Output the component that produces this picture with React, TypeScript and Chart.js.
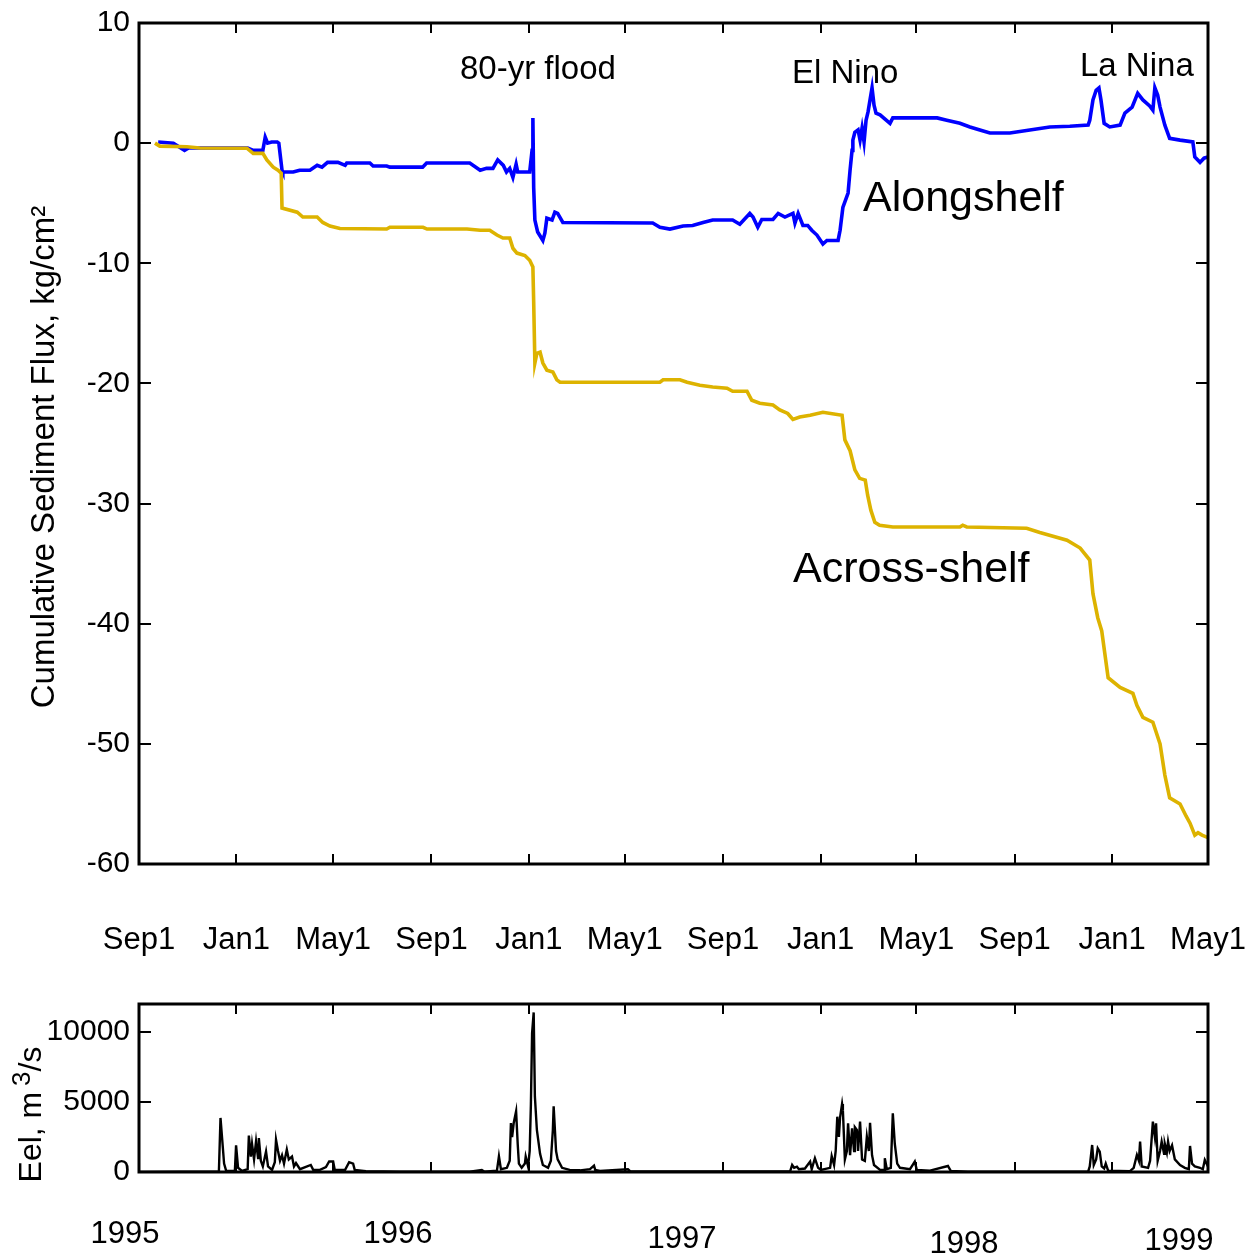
import React, { useEffect, useRef } from 'react';
import { Chart, registerables } from 'chart.js';

Chart.register(...registerables);

// ---------------- data ----------------
// x values are days since 1 Sep 1995
const X_TICK_DAYS = [0, 122, 243, 366, 488, 608, 731, 853, 973, 1096, 1218, 1338];
const X_TICK_LABELS = ['Sep1', 'Jan1', 'May1', 'Sep1', 'Jan1', 'May1', 'Sep1', 'Jan1', 'May1', 'Sep1', 'Jan1', 'May1'];
const FLUX_TICKS = [-60, -50, -40, -30, -20, -10, 0, 10];
const EEL_TICKS = [0, 5000, 10000];
const YEAR_LABELS = ['1995', '1996', '1997', '1998', '1999'];
const EVENT_LABELS = ['80-yr flood', 'El Nino', 'La Nina'];
const SERIES_LABELS = ['Alongshelf', 'Across-shelf'];
const FLUX_TITLE = 'Cumulative Sediment Flux, kg/cm\u00B2';
const EEL_TITLE_PARTS = ['Eel, m ', '3', '/s'];

// Alongshelf cumulative flux [day, kg/cm^2]
const ALONGSHELF: number[][] = [
  [24, 0.1], [43, 0], [57, -0.6], [62, -0.4], [136, -0.4], [143, -0.6], [155, -0.6], [158, 0.5], [161, 0],
  [166, 0.1], [173, 0.1], [175, 0], [179, -2.25], [180, -2.4], [193, -2.4], [201, -2.25], [214, -2.25],
  [223, -1.85], [229, -2.0], [236, -1.6], [249, -1.6], [258, -1.85], [260, -1.65], [289, -1.65], [293, -1.9],
  [310, -1.9], [314, -2.0], [355, -2.0], [360, -1.65], [414, -1.65], [427, -2.25], [435, -2.1], [443, -2.1],
  [449, -1.4], [456, -1.85], [460, -2.4], [464, -2.1], [468, -2.85], [472, -1.75], [474, -2.4], [481, -2.4],
  [489, -2.4], [492, -0.6], [493, 2.1], [494, -3.7], [495.5, -6.4], [499, -7.4], [505.5, -8.1], [508, -7.5],
  [510.5, -6.25], [517, -6.4], [520.5, -5.75], [524, -5.85], [530.5, -6.6], [643, -6.65], [652, -7.0],
  [664.5, -7.15], [681, -6.9], [693, -6.85], [706, -6.6], [718, -6.4], [743, -6.4], [752, -6.75],
  [764.5, -5.85], [768.5, -6.15], [774.5, -7.0], [779.5, -6.35], [793.5, -6.35], [800, -5.85], [808.5, -6.15],
  [818.5, -5.85], [821, -6.65], [825, -5.85], [831, -6.85], [837, -6.85], [842, -7.25], [848.5, -7.65],
  [856, -8.4], [861, -8.1], [875, -8.1], [877.5, -7.25], [881, -5.35], [887.5, -4.15], [890, -2.25],
  [892.5, -0.6], [893.5, 0.25], [896, 0.9], [900, 1.1], [902.5, 0.25], [905, 1.25], [907.5, 0.1], [910, 1.9],
  [912.5, 2.6], [915, 3.6], [917.5, 4.6], [920, 3.15], [922.5, 2.5], [927.5, 2.35], [940, 1.65], [943.5, 2.1],
  [999, 2.1], [1011, 1.9], [1027.5, 1.65], [1040, 1.35], [1052.5, 1.1], [1065, 0.85], [1090, 0.85],
  [1115, 1.1], [1140, 1.35], [1165, 1.4], [1188, 1.5], [1190, 1.9], [1194, 3.6], [1198, 4.4], [1201.5, 4.6],
  [1204, 3.6], [1208, 1.65], [1215, 1.35], [1228, 1.5], [1234, 2.5], [1243, 3.0], [1250, 4.15], [1256.5, 3.6],
  [1265, 3.1], [1269, 2.75], [1271.5, 4.6], [1275, 4.0], [1278, 3.0], [1284, 1.5], [1290, 0.4], [1303, 0.25],
  [1319, 0.1], [1321.5, -1.15], [1328, -1.6], [1333, -1.25], [1338, -1.15],
];

// Across-shelf cumulative flux [day, kg/cm^2]
const ACROSSSHELF: number[][] = [
  [20, 0], [26, -0.25], [60, -0.3], [76, -0.4], [135, -0.42], [143, -0.85], [155, -0.85], [160, -1.4],
  [168, -2.0], [174, -2.25], [178, -2.5], [179, -5.4], [198, -5.75], [205, -6.15], [223, -6.15], [230, -6.6],
  [239, -6.9], [251.5, -7.1], [310, -7.15], [314, -7.0], [355.5, -7.0], [360.5, -7.15], [410.5, -7.15],
  [427, -7.25], [439, -7.25], [448, -7.65], [455.5, -7.9], [464, -7.9], [468, -8.75], [473, -9.15],
  [483, -9.35], [489, -9.75], [493, -10.3], [494, -13.2], [495.5, -18.3], [498, -17.5], [502, -17.4],
  [505.5, -18.3], [510.5, -18.9], [518, -19.05], [523, -19.7], [527, -19.9], [652, -19.9], [656, -19.7],
  [677, -19.7], [686, -19.9], [702, -20.15], [718, -20.3], [736, -20.4], [743, -20.65], [761, -20.65],
  [767, -21.4], [777, -21.65], [793.5, -21.8], [802, -22.2], [812, -22.5], [818.5, -23.0], [827, -22.8],
  [840, -22.65], [856, -22.4], [880, -22.65], [883.5, -24.7], [890, -25.6], [896, -27.2], [902, -27.9],
  [909, -28.05], [912, -29.3], [916, -30.55], [921, -31.55], [927, -31.8], [943.5, -31.95], [1027.5, -31.95],
  [1031, -31.8], [1036, -31.95], [1111, -32.05], [1127.5, -32.4], [1161.5, -33.05], [1178, -33.7],
  [1190, -34.7], [1194, -37.5], [1200, -39.5], [1205, -40.6], [1213, -44.5], [1228, -45.3], [1244, -45.8],
  [1249, -46.8], [1256.5, -47.8], [1269, -48.2], [1278, -50.0], [1284, -52.6], [1290, -54.5], [1303, -55.0],
  [1310.5, -56.0], [1315.5, -56.6], [1321.5, -57.6], [1325.5, -57.4], [1330.5, -57.6], [1338, -57.8],
];

// Eel River discharge [day, m^3/s]
const EEL: number[][] = [
  [0, 0], [100, 40], [102, 3860], [104, 2430], [106.5, 600], [109, 100], [120, 80], [121.5, 1900], [124, 300],
  [129, 80], [136, 200], [137.5, 2600], [140, 1100], [141.5, 2000], [144, 900], [146.5, 2200], [149, 1000],
  [150, 2430], [152.5, 800], [155, 400], [159, 1470], [161.5, 400], [166.5, 150], [170, 700], [171.5, 2300],
  [174, 1500], [176.5, 800], [179, 1200], [181.5, 600], [185, 1600], [187.5, 900], [191.5, 1100], [194, 400],
  [196.5, 640], [201.5, 200], [215, 500], [218, 150], [226.5, 150], [234, 350], [238, 750], [243, 750],
  [245, 150], [258, 150], [263, 700], [268, 600], [270, 150], [284, 50], [327, 30], [414, 30], [429, 150],
  [432, 30], [448, 100], [450.5, 1120], [453, 200], [460.5, 300], [464, 800], [465.5, 3500], [467, 2500],
  [469, 3500], [472, 4330], [474, 2000], [475.5, 600], [479, 300], [483, 600], [484, 1100], [487, 400],
  [489, 1500], [490.5, 4800], [492, 9900], [494, 11400], [495.5, 5400], [498, 3000], [502, 1300], [505.5, 500],
  [512, 300], [515.5, 800], [518, 3000], [519, 4700], [522, 1500], [524, 900], [529.5, 300], [539, 150],
  [552, 120], [564.5, 200], [569.5, 450], [571, 150], [577, 80], [612, 200], [615, 50], [627, 40], [815, 50],
  [817.5, 500], [820, 300], [823.5, 380], [826, 200], [833.5, 250], [840, 740], [842, 200], [846, 980],
  [850, 300], [853.5, 150], [865, 300], [867, 1140], [870, 500], [872, 1500], [874, 3950], [876, 2500],
  [877.5, 3900], [880, 4860], [881, 4430], [883.5, 900], [886, 1500], [887.5, 3480], [890, 1200],
  [892.5, 3120], [895, 1500], [896, 3200], [898.5, 3000], [900, 1500], [902.5, 3600], [905, 900], [908.5, 800],
  [911, 2520], [913.5, 1500], [915, 3520], [917.5, 1200], [920, 500], [927.5, 150], [932.5, 150],
  [933.5, 980], [936, 200], [941, 300], [943.5, 4190], [946, 2000], [949, 600], [952.5, 300], [965, 200],
  [971, 740], [973.5, 150], [990, 100], [1012.5, 430], [1016, 80], [1037.5, 30], [1188, 30], [1190, 400],
  [1193, 1930], [1195, 500], [1198, 900], [1200, 1690], [1202.5, 1450], [1205, 400], [1208, 250], [1210, 600],
  [1213, 100], [1240, 50], [1245, 300], [1249, 1210], [1251.5, 800], [1253, 2170], [1255, 400], [1263, 300],
  [1265.5, 800], [1269, 3600], [1271.5, 2500], [1273, 3480], [1275, 800], [1278, 1500], [1280, 2170],
  [1283, 1300], [1284, 2000], [1286.5, 1400], [1288, 2170], [1290, 1500], [1293, 1900], [1296.5, 900],
  [1303, 500], [1309, 300], [1314, 200], [1315.5, 1860], [1318, 600], [1321.5, 400], [1328, 300],
  [1331.5, 200], [1334, 860], [1338, 400],
];

// ---------------- layout / style ----------------
const FONT = "'Liberation Sans', Arial, Helvetica, sans-serif";
const W = 1249;
const TOP_H = 990;
const BOT_H = 267;
const PLOT_LEFT = 139;
const RIGHT_PAD = 41;
const TOP_PLOT_TOP = 23;
const TOP_PLOT_BOTTOM = 864;
const BOT_PLOT_TOP = 14;
const BOT_PLOT_BOTTOM = 182;
const BLUE = '#0000FF';
const GOLD = '#DDB300';

const EVENT_POS = [[460, 79], [792, 83], [1080, 76]];
const SERIES_POS = [[863, 211], [793, 582]];
const YEAR_POS = [[125, 244], [398, 244], [682, 249], [964, 254], [1179, 251]];

const toXY = (arr: number[][]) => arr.map(([x, y]) => ({ x, y }));

const frameTicks = {
  id: 'frameTicks',
  afterDatasetsDraw(chart: any) {
    const { ctx, chartArea: a, scales } = chart;
    const len = 10;
    ctx.save();
    ctx.strokeStyle = '#000';
    ctx.lineWidth = 2;
    ctx.beginPath();
    const xs = scales.x;
    xs.ticks.forEach((t: any) => {
      const p = Math.round(xs.getPixelForValue(t.value));
      if (p <= a.left + 2 || p >= a.right - 2) return;
      ctx.moveTo(p, a.bottom);
      ctx.lineTo(p, a.bottom - len);
      ctx.moveTo(p, a.top);
      ctx.lineTo(p, a.top + len);
    });
    const ys = scales.y;
    ys.ticks.forEach((t: any) => {
      const p = Math.round(ys.getPixelForValue(t.value));
      if (p <= a.top + 2 || p >= a.bottom - 2) return;
      ctx.moveTo(a.left, p);
      ctx.lineTo(a.left + len + 2, p);
      ctx.moveTo(a.right, p);
      ctx.lineTo(a.right - len - 2, p);
    });
    ctx.stroke();
    ctx.lineWidth = 3;
    ctx.strokeRect(a.left, a.top, a.right - a.left, a.bottom - a.top);
    ctx.restore();
  },
};

const topText = {
  id: 'topText',
  afterDraw(chart: any) {
    const ctx = chart.ctx;
    ctx.save();
    ctx.fillStyle = '#000';
    ctx.textAlign = 'left';
    ctx.textBaseline = 'alphabetic';
    ctx.font = `33px ${FONT}`;
    EVENT_LABELS.forEach((t, i) => ctx.fillText(t, EVENT_POS[i][0], EVENT_POS[i][1]));
    ctx.font = `43px ${FONT}`;
    SERIES_LABELS.forEach((t, i) => ctx.fillText(t, SERIES_POS[i][0], SERIES_POS[i][1]));
    ctx.translate(54, 457);
    ctx.rotate(-Math.PI / 2);
    ctx.textAlign = 'center';
    ctx.font = `33px ${FONT}`;
    ctx.fillText(FLUX_TITLE, 0, 0);
    ctx.restore();
  },
};

const bottomText = {
  id: 'bottomText',
  afterDraw(chart: any) {
    const ctx = chart.ctx;
    ctx.save();
    ctx.fillStyle = '#000';
    ctx.textAlign = 'center';
    ctx.textBaseline = 'middle';
    ctx.font = `31px ${FONT}`;
    YEAR_LABELS.forEach((t, i) => ctx.fillText(t, YEAR_POS[i][0], YEAR_POS[i][1]));
    // rotated axis title with superscript
    ctx.translate(41, 123);
    ctx.rotate(-Math.PI / 2);
    ctx.textAlign = 'left';
    ctx.textBaseline = 'alphabetic';
    const mainFont = `32px ${FONT}`;
    const supFont = `26px ${FONT}`;
    ctx.font = mainFont;
    const w0 = ctx.measureText(EEL_TITLE_PARTS[0]).width;
    const w2 = ctx.measureText(EEL_TITLE_PARTS[2]).width;
    ctx.font = supFont;
    const w1 = ctx.measureText(EEL_TITLE_PARTS[1]).width;
    let x = -(w0 + w1 + w2) / 2;
    ctx.font = mainFont;
    ctx.fillText(EEL_TITLE_PARTS[0], x, 0);
    x += w0 - 3;
    ctx.font = supFont;
    ctx.fillText(EEL_TITLE_PARTS[1], x, -11);
    x += w1;
    ctx.font = mainFont;
    ctx.fillText(EEL_TITLE_PARTS[2], x, 0);
    ctx.restore();
  },
};

function xScale(heightPx: number, showLabels: boolean) {
  return {
    type: 'linear',
    min: X_TICK_DAYS[0],
    max: X_TICK_DAYS[X_TICK_DAYS.length - 1],
    grid: { display: false, drawTicks: false },
    border: { display: false },
    afterBuildTicks: (s: any) => {
      s.ticks = X_TICK_DAYS.map((v) => ({ value: v }));
    },
    afterFit: (s: any) => {
      s.height = heightPx;
      s.paddingLeft = 0;
      s.paddingRight = 0;
    },
    ticks: {
      display: showLabels,
      autoSkip: false,
      maxRotation: 0,
      minRotation: 0,
      padding: 58,
      color: '#000',
      font: { family: FONT, size: 31 },
      callback: (_v: any, i: number) => X_TICK_LABELS[i],
    },
  };
}

function yScale(min: number, max: number, ticks: number[]) {
  return {
    type: 'linear',
    min,
    max,
    grid: { display: false, drawTicks: false },
    border: { display: false },
    afterBuildTicks: (s: any) => {
      s.ticks = ticks.map((v) => ({ value: v }));
    },
    afterFit: (s: any) => {
      s.width = PLOT_LEFT;
      s.paddingTop = 0;
      s.paddingBottom = 0;
    },
    ticks: {
      padding: 9,
      color: '#000',
      font: { family: FONT, size: 30 },
      callback: (v: any) => String(v),
    },
  };
}

export default function App() {
  const topRef = useRef<HTMLCanvasElement>(null);
  const botRef = useRef<HTMLCanvasElement>(null);

  useEffect(() => {
    const top = new Chart(topRef.current as HTMLCanvasElement, {
      type: 'line',
      data: {
        datasets: [
          {
            label: SERIES_LABELS[1],
            data: toXY(ACROSSSHELF),
            borderColor: GOLD,
            borderWidth: 3.6,
            pointRadius: 0,
            tension: 0,
            order: 0,
          },
          {
            label: SERIES_LABELS[0],
            data: toXY(ALONGSHELF),
            borderColor: BLUE,
            borderWidth: 3.6,
            pointRadius: 0,
            tension: 0,
            order: 1,
          },
        ],
      },
      options: {
        responsive: false,
        animation: false,
        events: [],
        layout: { padding: { top: TOP_PLOT_TOP, right: RIGHT_PAD, left: 0, bottom: 0 } },
        plugins: { legend: { display: false }, tooltip: { enabled: false } },
        scales: {
          x: xScale(TOP_H - TOP_PLOT_BOTTOM, true) as any,
          y: yScale(-60, 10, FLUX_TICKS) as any,
        },
      },
      plugins: [frameTicks, topText],
    });

    const bot = new Chart(botRef.current as HTMLCanvasElement, {
      type: 'line',
      data: {
        datasets: [
          {
            label: 'Eel',
            data: toXY(EEL),
            borderColor: '#000',
            borderWidth: 2.4,
            pointRadius: 0,
            tension: 0,
          },
        ],
      },
      options: {
        responsive: false,
        animation: false,
        events: [],
        layout: { padding: { top: BOT_PLOT_TOP, right: RIGHT_PAD, left: 0, bottom: 0 } },
        plugins: { legend: { display: false }, tooltip: { enabled: false } },
        scales: {
          x: xScale(BOT_H - BOT_PLOT_BOTTOM, false) as any,
          y: yScale(0, 12000, EEL_TICKS) as any,
        },
      },
      plugins: [frameTicks, bottomText],
    });

    return () => {
      top.destroy();
      bot.destroy();
    };
  }, []);

  return (
    <div style={{ position: 'absolute', left: 0, top: 0, width: W, height: TOP_H + BOT_H, background: '#fff' }}>
      <canvas ref={topRef} width={W} height={TOP_H} style={{ position: 'absolute', left: 0, top: 0, display: 'block' }} />
      <canvas ref={botRef} width={W} height={BOT_H} style={{ position: 'absolute', left: 0, top: TOP_H, display: 'block' }} />
    </div>
  );
}
